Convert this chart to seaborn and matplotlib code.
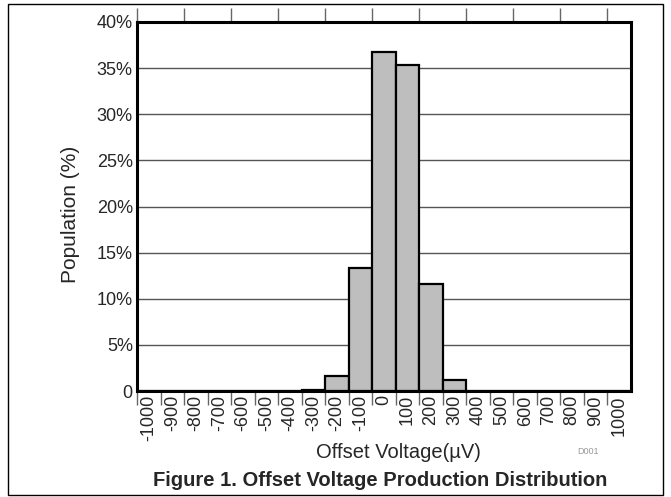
import numpy as np
import pandas as pd
import matplotlib
matplotlib.use('Agg')
import matplotlib.pyplot as plt
import seaborn as sns
from matplotlib.patches import Rectangle

# -----------------------------
# Data
# -----------------------------
bins_uv = ['-1000', '-900', '-800', '-700', '-600', '-500', '-400', '-300', '-200', '-100',
           '0', '100', '200', '300', '400', '500', '600', '700', '800', '900', '1000']
population = [0, 0, 0, 0, 0, 0, 0, 0.08, 1.6, 13.3,
              36.8, 35.3, 11.6, 1.2, 0.05, 0, 0, 0, 0, 0, 0]
y_ticks = [0, 5, 10, 15, 20, 25, 30, 35, 40]
y_labels = ['0', '5%', '10%', '15%', '20%', '25%', '30%', '35%', '40%']

df = pd.DataFrame({'bin': bins_uv, 'pop': population})

sns.set_style('white')
plt.rcParams['font.family'] = ['Liberation Sans', 'DejaVu Sans']

fig = plt.figure(figsize=(6.71, 4.97), dpi=100)
ax = fig.add_axes([137 / 671, 1 - 391 / 497, (631 - 137) / 671, (391 - 22) / 497])

# grid first so bars sit on top
for y in y_ticks[1:-1]:
    ax.axhline(y, color='#555555', lw=1, zorder=0)

sns.barplot(data=df, x='bin', y='pop', order=bins_uv, width=1.0,
            color='#bebebe', saturation=1, edgecolor='black', linewidth=1.6,
            ax=ax, zorder=2)

ax.set_xlim(-0.5, len(bins_uv) - 0.5)
ax.set_ylim(0, 40)

ax.set_yticks(y_ticks)
ax.set_yticklabels(y_labels, fontsize=13)
ax.tick_params(axis='y', length=0, pad=3)

# labels at bin centres, ticks on bin edges
ax.set_xticks(np.arange(len(bins_uv)))
ax.set_xticklabels(bins_uv, rotation=90, fontsize=13)
ax.set_xticks(np.arange(len(bins_uv)) - 0.5, minor=True)
ax.tick_params(axis='x', which='major', length=0, pad=3)
ax.tick_params(axis='x', which='minor', length=10, width=1, color='#666666',
               direction='out', bottom=True)

# top ticks every other edge
top = ax.secondary_xaxis('top')
top.set_xticks(np.arange(0, len(bins_uv), 2) - 0.5)
top.set_xticklabels([])
top.tick_params(length=10, width=1, color='#666666', direction='out')
top.spines['top'].set_visible(False)

for s in ax.spines.values():
    s.set_visible(True)
    s.set_linewidth(2.2)
    s.set_color('black')
    s.set_zorder(5)

ax.set_xlabel('')
ax.set_ylabel('')

fig.text(71 / 671, 1 - 214 / 497, 'Population (%)', ha='center', va='center',
         rotation=90, fontsize=15)
fig.text(398 / 671, 1 - 453 / 497, 'Offset Voltage(µV)', ha='center', va='center', fontsize=14.5)
fig.text(588 / 671, 1 - 452 / 497, 'D001', ha='center', va='center', fontsize=6.5, color='#999999')
fig.text(380 / 671, 1 - 480 / 497, 'Figure 1. Offset Voltage Production Distribution',
         ha='center', va='center', fontsize=14.5, fontweight='bold')

# outer frame
fig.patches.append(Rectangle((8 / 671, 0.004), 655 / 671, 0.988, transform=fig.transFigure,
                             fill=False, edgecolor='black', linewidth=1))

fig.savefig('out.png', dpi=100)
